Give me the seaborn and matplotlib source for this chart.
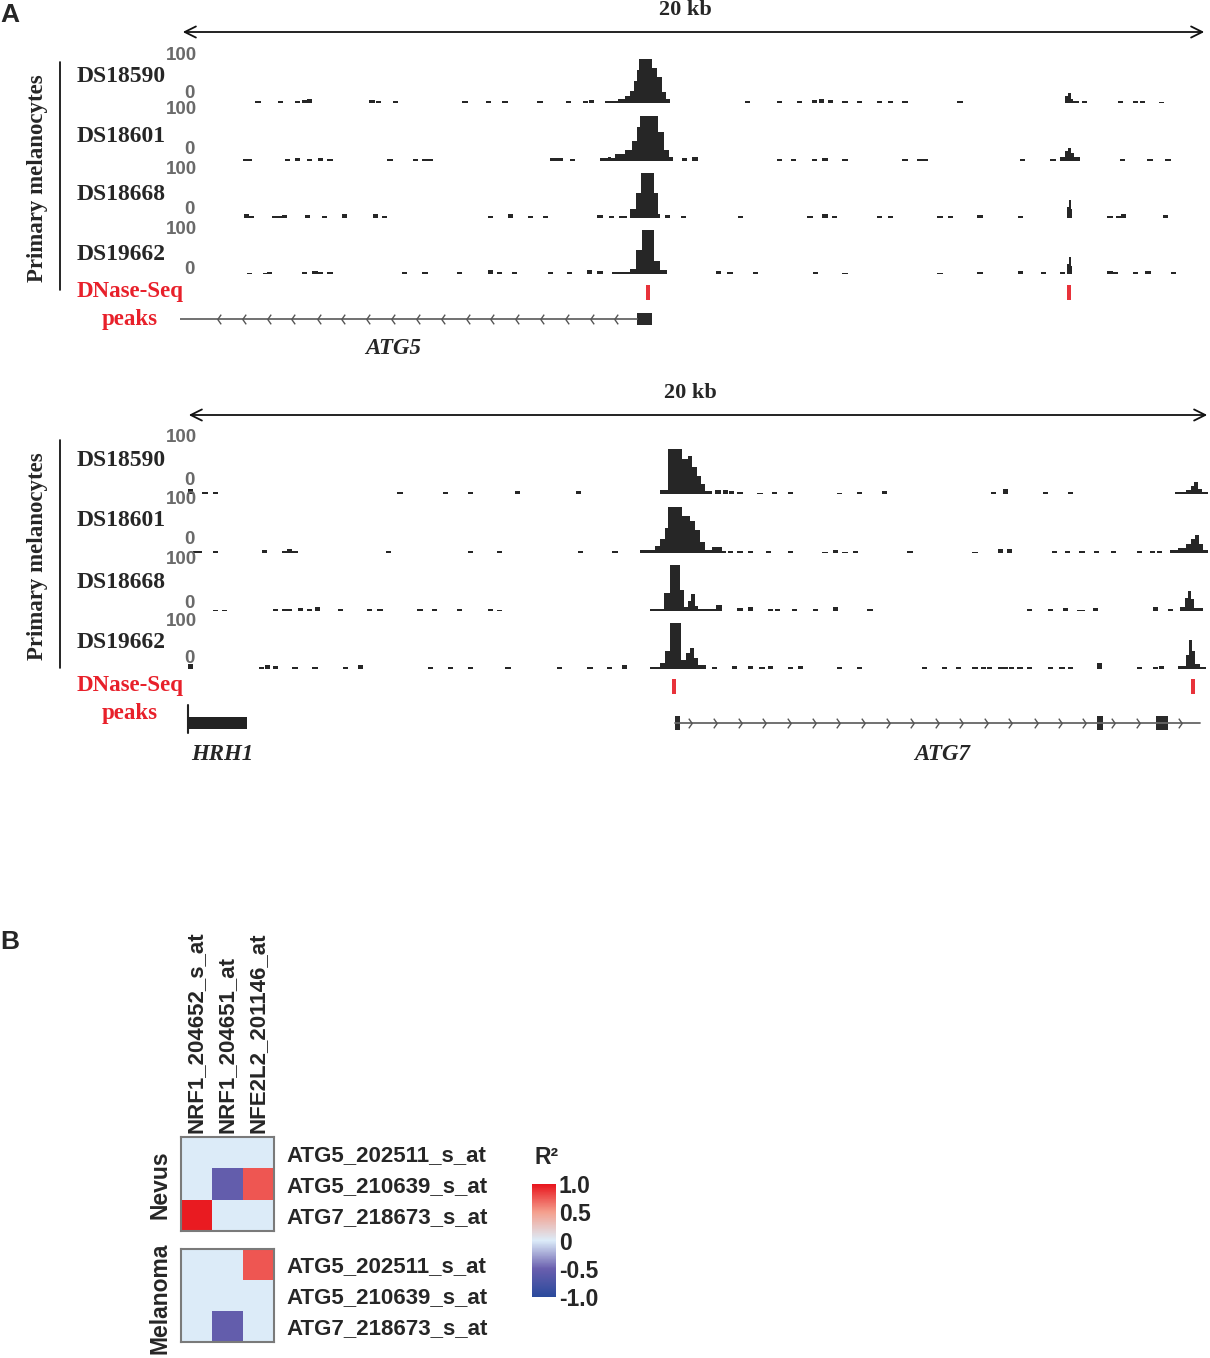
import numpy as np
import pandas as pd
import seaborn as sns
import matplotlib.pyplot as plt
from matplotlib.colors import LinearSegmentedColormap
from matplotlib.patches import FancyArrowPatch
from matplotlib.lines import Line2D
from matplotlib.path import Path

# ---------------- data: panel A (positions in kb across a 20 kb window, signal 0-100) ----------------
SAMPLES = ["DS18590", "DS18601", "DS18668", "DS19662"]

# peak segments (start_kb, end_kb, signal)
ATG5_DS18590 = [(8.28, 8.53, 5), (8.53, 8.67, 8), (8.67, 8.76, 15), (8.76, 8.84, 28), (8.84, 8.90, 50),
                (8.90, 8.94, 75), (8.94, 9.19, 100), (9.19, 9.29, 80), (9.29, 9.39, 60), (9.39, 9.46, 25),
                (9.46, 9.54, 8), (17.23, 17.29, 15), (17.29, 17.35, 23), (17.35, 17.40, 10), (17.40, 17.50, 5)]
ATG5_DS18601 = [(7.26, 7.45, 6), (8.18, 8.33, 6), (8.33, 8.40, 10), (8.40, 8.47, 7), (8.47, 8.67, 15),
                (8.67, 8.80, 25), (8.80, 8.90, 45), (8.90, 8.96, 75), (8.96, 9.31, 100), (9.31, 9.43, 65),
                (9.43, 9.52, 25), (9.52, 9.60, 8), (17.14, 17.23, 8), (17.23, 17.29, 22), (17.29, 17.35, 30),
                (17.35, 17.41, 18), (17.41, 17.53, 10)]
ATG5_DS18668 = [(8.55, 8.70, 5), (8.76, 8.88, 20), (8.88, 8.98, 55), (8.98, 9.23, 100), (9.23, 9.30, 55),
                (9.30, 9.35, 8), (17.27, 17.31, 25), (17.31, 17.35, 40), (17.35, 17.38, 20)]
ATG5_DS19662 = [(8.41, 8.76, 5), (8.76, 8.88, 12), (8.88, 9.00, 55), (9.00, 9.23, 100), (9.23, 9.35, 30),
                (9.35, 9.48, 8), (17.27, 17.31, 22), (17.31, 17.35, 38), (17.35, 17.38, 18)]

# scattered low background reads (position_kb, signal)
ATG5_DS18590_BG_X = [1.52, 1.95, 2.28, 2.43, 2.53, 3.74, 3.86, 4.19, 5.55, 6.00, 6.33, 7.01, 7.56, 7.89, 8.02,
                     11.06, 11.68, 12.07, 12.36, 12.50, 12.66, 12.95, 13.24, 13.63, 13.83, 14.12, 15.19, 17.62,
                     18.31, 18.60, 18.75, 19.12]
ATG5_DS18590_BG_Y = [5, 4, 5, 6, 10, 6, 5, 5, 4, 4, 4, 4, 5, 5, 6,
                     5, 4, 5, 6, 10, 6, 5, 4, 5, 5, 5, 4, 5, 4, 4, 4, 3]
ATG5_DS18601_BG_X = [1.27, 1.36, 2.10, 2.28, 2.53, 2.73, 2.92, 4.09, 4.58, 4.77, 4.87, 7.26, 7.36, 7.65, 9.83,
                     10.03, 11.68, 11.94, 12.36, 12.56, 12.95, 14.12, 14.41, 14.51, 16.40, 17.00, 18.36, 18.89,
                     19.24]
ATG5_DS18601_BG_Y = [4, 4, 5, 6, 5, 6, 4, 4, 4, 5, 4, 7, 6, 4, 6, 9, 4, 4, 5, 7, 5, 4, 4, 5, 4, 5, 4, 4, 5]
ATG5_DS18668_BG_X = [1.30, 1.40, 1.85, 1.95, 2.04, 2.49, 2.82, 3.21, 3.80, 3.99, 6.04, 6.43, 6.82, 7.11, 8.18,
                     8.41, 9.50, 9.80, 10.91, 12.27, 12.56, 12.75, 13.63, 13.83, 14.80, 15.00, 15.58, 16.36,
                     18.11, 18.27, 18.38, 19.19]
ATG5_DS18668_BG_Y = [10, 4, 5, 4, 6, 6, 5, 10, 10, 5, 5, 10, 4, 4, 6, 5,
                     6, 5, 4, 5, 8, 5, 4, 4, 4, 4, 6, 5, 5, 5, 8, 6]
ATG5_DS19662_BG_X = [1.36, 1.66, 1.75, 2.43, 2.63, 2.73, 2.92, 4.38, 4.77, 5.45, 6.04, 6.23, 6.52, 7.21, 7.59,
                     7.98, 8.18, 10.48, 10.71, 11.20, 12.37, 12.95, 14.80, 15.58, 16.36, 16.81, 17.18, 18.11,
                     18.21, 18.60, 18.85, 19.34]
ATG5_DS19662_BG_Y = [3, 3, 4, 5, 6, 5, 4, 5, 4, 4, 8, 5, 4, 5, 5, 9, 7, 6, 5, 5, 4, 3, 3, 5, 7, 5, 5, 6, 5, 5,
                     7, 4]

ATG7_DS18590 = [(9.26, 9.41, 8), (9.41, 9.69, 100), (9.69, 9.80, 78), (9.80, 9.88, 85), (9.88, 9.98, 60),
                (9.98, 10.06, 40), (10.06, 10.14, 22), (10.14, 10.27, 6), (19.32, 19.53, 5), (19.53, 19.63, 8),
                (19.63, 19.69, 18), (19.69, 19.77, 27), (19.77, 19.84, 12), (19.84, 19.96, 5)]
ATG7_DS18601 = [(8.87, 9.16, 6), (9.16, 9.26, 15), (9.26, 9.36, 30), (9.36, 9.41, 55), (9.41, 9.69, 100),
                (9.69, 9.84, 80), (9.84, 9.94, 70), (9.94, 10.04, 50), (10.04, 10.14, 25), (10.14, 10.27, 6),
                (10.27, 10.47, 14), (10.47, 10.55, 5), (19.22, 19.38, 6), (19.38, 19.53, 10), (19.53, 19.63, 20),
                (19.63, 19.71, 30), (19.71, 19.79, 40), (19.79, 19.86, 20), (19.86, 19.96, 6)]
ATG7_DS18668 = [(9.06, 9.34, 5), (9.34, 9.45, 40), (9.45, 9.65, 100), (9.65, 9.73, 45), (9.73, 9.80, 8),
                (9.80, 9.86, 22), (9.86, 9.94, 38), (9.94, 10.00, 10), (10.00, 10.35, 5), (10.35, 10.47, 14),
                (19.41, 19.51, 8), (19.51, 19.57, 28), (19.57, 19.63, 43), (19.63, 19.69, 25), (19.69, 19.86, 6)]
ATG7_DS19662 = [(9.06, 9.26, 5), (9.26, 9.36, 12), (9.36, 9.45, 40), (9.45, 9.67, 100), (9.67, 9.77, 20),
                (9.77, 9.84, 35), (9.84, 9.92, 45), (9.92, 10.00, 25), (10.00, 10.16, 8), (19.38, 19.53, 6),
                (19.53, 19.59, 30), (19.59, 19.65, 63), (19.65, 19.71, 40), (19.71, 19.80, 10), (19.80, 19.92, 5)]

ATG7_DS18590_BG_X = [0.08, 0.37, 0.57, 4.18, 5.06, 5.55, 6.48, 7.66, 10.39, 10.53, 10.66, 10.82, 11.21, 11.50,
                     11.80, 12.77, 13.16, 13.65, 15.78, 16.00, 16.78, 17.27]
ATG7_DS18590_BG_Y = [12, 4, 4, 4, 4, 4, 6, 6, 8, 8, 6, 5, 3, 4, 5, 3, 4, 6, 5, 12, 4, 4]
ATG7_DS18601_BG_X = [0.18, 0.27, 0.57, 1.54, 1.93, 2.03, 2.13, 3.95, 5.55, 6.13, 7.70, 8.38, 10.63, 10.82,
                     11.02, 11.37, 11.80, 12.48, 12.68, 12.87, 13.07, 14.14, 15.41, 15.90, 16.09, 16.97, 17.21,
                     17.50, 17.79, 18.11, 18.63, 18.87, 19.02]
ATG7_DS18601_BG_Y = [4, 4, 4, 6, 5, 8, 5, 4, 4, 4, 4, 4, 5, 5, 4, 4, 4, 3, 6, 3, 5, 4, 3, 8, 8, 5, 4, 5, 4, 5,
                     4, 4, 4]
ATG7_DS18668_BG_X = [0.57, 0.76, 1.74, 1.93, 2.03, 2.23, 2.42, 2.56, 3.01, 3.59, 3.79, 4.57, 4.86, 5.35, 5.94,
                     6.13, 10.82, 11.02, 11.41, 11.56, 11.89, 12.29, 12.68, 13.36, 16.48, 16.88, 17.17, 17.46,
                     17.50, 17.77, 18.93, 19.22]
ATG7_DS18668_BG_Y = [3, 3, 5, 4, 5, 6, 5, 8, 5, 4, 4, 5, 4, 4, 5, 3, 6, 8, 5, 4, 5, 4, 8, 4, 5, 4, 6, 3, 3, 6,
                     8, 5]
ATG7_DS19662_BG_X = [0.08, 1.48, 1.60, 1.74, 2.13, 2.52, 3.11, 3.40, 4.77, 5.16, 5.55, 6.29, 7.30, 7.89, 8.28,
                     8.57, 10.33, 10.72, 11.02, 11.25, 11.41, 11.80, 12.00, 12.77, 13.16, 14.43, 14.82, 15.08,
                     15.41, 15.57, 15.70, 15.90, 16.00, 16.13, 16.29, 16.48, 16.88, 17.11, 17.27, 17.85, 18.63,
                     18.93, 19.06]
ATG7_DS19662_BG_Y = [10, 4, 8, 6, 5, 4, 5, 8, 4, 4, 4, 5, 4, 4, 5, 8, 4, 6, 7, 4, 6, 5, 6, 4, 5, 4, 4, 4, 4, 4,
                     4, 4, 5, 5, 5, 4, 4, 5, 4, 12, 4, 5, 6]

# DNase-seq peak calls (kb)
ATG5_PEAK_CALLS = [9.11, 17.31]
ATG7_PEAK_CALLS = [9.53, 19.67]

# gene models (kb)
ATG5_SPAN = (0.0, 8.90)
ATG5_EXONS = [(8.90, 9.19)]
ATG5_INTRON_ARROWS = [0.76, 1.24, 1.73, 2.21, 2.70, 3.18, 3.66, 4.15, 4.63, 5.12, 5.60, 6.08, 6.57, 7.05,
                      7.54, 8.02, 8.50]
HRH1_EXONS = [(0.04, 1.19)]
ATG7_SPAN = (9.55, 19.80)
ATG7_EXONS = [(9.55, 9.65), (17.79, 17.91), (18.95, 19.18)]
ATG7_INTRON_ARROWS = [9.84, 10.33, 10.82, 11.29, 11.78, 12.27, 12.73, 13.22, 13.71, 14.18, 14.67, 15.14,
                      15.63, 16.09, 16.60, 17.07, 17.54, 18.11, 18.59, 19.41]

# ---------------- data: panel B ----------------
TF_PROBES = ["NRF1_204652_s_at", "NRF1_204651_at", "NFE2L2_201146_at"]
ATG_PROBES = ["ATG5_202511_s_at", "ATG5_210639_s_at", "ATG7_218673_s_at"]
NEVUS_R2 = [[0.0, 0.0, 0.0],
            [0.0, -0.55, 0.76],
            [0.97, 0.0, 0.0]]
MELANOMA_R2 = [[0.0, 0.0, 0.76],
               [0.0, 0.0, 0.0],
               [0.0, -0.55, 0.0]]
CBAR_TICKS = [1.0, 0.5, 0.0, -0.5, -1.0]
CBAR_LABELS = ["1.0", "0.5", "0", "-0.5", "-1.0"]

# ---------------- figure ----------------
sns.set_style("white")
plt.rcParams['font.family'] = ['Liberation Sans', 'DejaVu Sans']
SERIF = ['Liberation Serif', 'DejaVu Serif']

W, H = 1210, 1358
fig = plt.figure(figsize=(W / 100, H / 100), dpi=100)

TRACK_COL = '#262626'
PEAK_RED = '#e8323a'


def px_ax(x0, y0, x1, y1):
    return fig.add_axes([x0 / W, 1 - y1 / H, (x1 - x0) / W, (y1 - y0) / H])


def px_text(x, y, s, **kw):
    kw.setdefault('ha', 'center')
    kw.setdefault('va', 'center')
    return fig.text(x / W, 1 - y / H, s, **kw)


def draw_track(ax, segs, bg_x, bg_y):
    starts = [a for a, b, v in segs]
    widths = [b - a for a, b, v in segs]
    vals = [min(v, 100) for a, b, v in segs]
    ax.bar(starts, vals, width=widths, align='edge', color=TRACK_COL, linewidth=0)
    ax.bar(bg_x, bg_y, width=0.1, align='center', color=TRACK_COL, linewidth=0)
    ax.set_xlim(0, 20)
    ax.set_ylim(0, 100)
    ax.axis('off')


chev_left = Path([(0.35, 1), (-0.35, 0), (0.35, -1)], [Path.MOVETO, Path.LINETO, Path.LINETO])
chev_right = Path([(-0.35, 1), (0.35, 0), (-0.35, -1)], [Path.MOVETO, Path.LINETO, Path.LINETO])


def draw_block(x0, x1, kb_y, arrow_y, bounds, label_ys, hi_ys, lo_ys, line_y, red_y, tracks, calls):
    px_text((x0 + x1) / 2 - 8, kb_y, "20 kb", family=SERIF, fontweight='bold', fontsize=16)
    fig.add_artist(FancyArrowPatch((x0 / W, 1 - arrow_y / H), (x1 / W, 1 - arrow_y / H),
                                   transform=fig.transFigure, arrowstyle='<->', mutation_scale=20,
                                   lw=1.3, color='#111111'))
    for (top, bot), ly, hy, lo, name, (segs, bx, by) in zip(bounds, label_ys, hi_ys, lo_ys, SAMPLES, tracks):
        ax = px_ax(x0, top, x1, bot)
        draw_track(ax, segs, bx, by)
        px_text(77, ly, name, ha='left', family=SERIF, fontweight='bold', fontsize=17)
        px_text(197, hy, "100", ha='right', fontweight='bold', fontsize=13.5, color='#6a6a6a')
        px_text(189, lo, "0", fontweight='bold', fontsize=13.5, color='#6a6a6a')
    # vertical bracket and group label
    fig.add_artist(Line2D([60 / W, 60 / W], [1 - line_y[0] / H, 1 - line_y[1] / H], color='black', lw=1.2))
    px_text(38, (line_y[0] + line_y[1]) / 2 + 2, "Primary melanocytes", rotation=90, family=SERIF,
            fontweight='bold', fontsize=16.5)
    # peak calls
    pax = px_ax(x0, red_y, x1, red_y + 15)
    pax.bar(calls, [1] * len(calls), width=0.08, color=PEAK_RED, linewidth=0)
    pax.set_xlim(0, 20)
    pax.set_ylim(0, 1)
    pax.axis('off')
    px_text(130, red_y + 7, "DNase-Seq", family=SERIF, fontweight='bold', fontsize=16.5, color='#e8202a')
    px_text(130, red_y + 35, "peaks", family=SERIF, fontweight='bold', fontsize=16.5, color='#e8202a')


# block 1 : ATG5
draw_block(180, 1207, 10, 32,
           [(59, 103), (116, 161), (173, 218), (230, 274)],
           [77, 136, 195, 254], [55, 110, 170, 230], [93, 150, 210, 270], (62, 290), 285,
           [(ATG5_DS18590, ATG5_DS18590_BG_X, ATG5_DS18590_BG_Y),
            (ATG5_DS18601, ATG5_DS18601_BG_X, ATG5_DS18601_BG_Y),
            (ATG5_DS18668, ATG5_DS18668_BG_X, ATG5_DS18668_BG_Y),
            (ATG5_DS19662, ATG5_DS19662_BG_X, ATG5_DS19662_BG_Y)],
           ATG5_PEAK_CALLS)

gax = px_ax(180, 299, 1207, 339)
gax.plot(ATG5_SPAN, [0.5, 0.5], color='#666666', lw=1.3)
for a, b in ATG5_EXONS:
    gax.bar(a, 0.3, width=b - a, bottom=0.35, align='edge', color='#2a2a2a', linewidth=0)
gax.plot(ATG5_INTRON_ARROWS, [0.5] * len(ATG5_INTRON_ARROWS), ls='none', marker=chev_left, ms=7,
         mfc='none', mec='#555555', mew=1.0)
gax.set_xlim(0, 20)
gax.set_ylim(0, 1)
gax.axis('off')
px_text(393, 348, "ATG5", family=SERIF, fontweight='bold', fontstyle='italic', fontsize=16.5)

# block 2 : ATG7
draw_block(186, 1210, 393, 415,
           [(449, 494), (507, 553), (565, 611), (623, 669)],
           [460, 521, 582, 643], [438, 500, 560, 622], [480, 540, 603, 658], (440, 668), 679,
           [(ATG7_DS18590, ATG7_DS18590_BG_X, ATG7_DS18590_BG_Y),
            (ATG7_DS18601, ATG7_DS18601_BG_X, ATG7_DS18601_BG_Y),
            (ATG7_DS18668, ATG7_DS18668_BG_X, ATG7_DS18668_BG_Y),
            (ATG7_DS19662, ATG7_DS19662_BG_X, ATG7_DS19662_BG_Y)],
           ATG7_PEAK_CALLS)

gax2 = px_ax(186, 703, 1210, 743)
for a, b in HRH1_EXONS:
    gax2.bar(a, 0.3, width=b - a, bottom=0.35, align='edge', color='#222222', linewidth=0)
    gax2.plot([a, a], [0.25, 0.95], color='#222222', lw=1.5)
gax2.plot(ATG7_SPAN, [0.5, 0.5], color='#666666', lw=1.3)
for a, b in ATG7_EXONS:
    gax2.bar(a, 0.36, width=b - a, bottom=0.32, align='edge', color='#2a2a2a', linewidth=0)
gax2.plot(ATG7_INTRON_ARROWS, [0.5] * len(ATG7_INTRON_ARROWS), ls='none', marker=chev_right, ms=7,
          mfc='none', mec='#555555', mew=1.0)
gax2.set_xlim(0, 20)
gax2.set_ylim(0, 1)
gax2.axis('off')
px_text(222, 755, "HRH1", family=SERIF, fontweight='bold', fontstyle='italic', fontsize=16.5)
px_text(942, 755, "ATG7", family=SERIF, fontweight='bold', fontstyle='italic', fontsize=16.5)

px_text(0, 15, "A", ha='left', fontweight='bold', fontsize=19)
px_text(0, 942, "B", ha='left', fontweight='bold', fontsize=19)

# ---------------- panel B heatmaps ----------------
cmap = LinearSegmentedColormap.from_list(
    'r2', [(0.0, '#2a4a9c'), (0.25, '#6a5fae'), (0.5, '#dcecf9'), (0.75, '#f4a08e'), (1.0, '#e8141c')])

nevus_df = pd.DataFrame(NEVUS_R2, index=ATG_PROBES, columns=TF_PROBES)
melanoma_df = pd.DataFrame(MELANOMA_R2, index=ATG_PROBES, columns=TF_PROBES)

hax1 = px_ax(181, 1137, 274, 1231)
hax2 = px_ax(181, 1249, 274, 1342)
for hax, df, show_cols in [(hax1, nevus_df, True), (hax2, melanoma_df, False)]:
    sns.heatmap(df, ax=hax, cmap=cmap, vmin=-1, vmax=1, cbar=False,
                xticklabels=show_cols, yticklabels=True)
    for sp in hax.spines.values():
        sp.set_visible(True)
        sp.set_color('#7a7a7a')
        sp.set_linewidth(1.5)
    hax.yaxis.tick_right()
    hax.set_yticklabels(ATG_PROBES, rotation=0, fontsize=16, fontweight='bold')
    hax.tick_params(axis='y', length=0, pad=9)
    hax.set_xlabel('')
    hax.set_ylabel('')
    if show_cols:
        hax.xaxis.tick_top()
        hax.set_xticks(np.arange(len(TF_PROBES)) + 0.5)
        hax.set_xticklabels(TF_PROBES, rotation=90)
        hax.tick_params(axis='x', length=0, pad=3)
        for tick in hax.xaxis.get_major_ticks():
            for lab in (tick.label1, tick.label2):
                lab.set_fontweight('bold')
                lab.set_fontsize(16)
                lab.set_rotation(90)

px_text(160, 1185, "Nevus", rotation=90, fontweight='bold', fontsize=16.5)
px_text(160, 1298, "Melanoma", rotation=90, fontweight='bold', fontsize=16.5)

cax = px_ax(532, 1184, 556, 1297)
cb = fig.colorbar(hax1.collections[0], cax=cax)
cb.outline.set_visible(False)
cax.yaxis.set_ticks_position('both')
cax.set_yticks(CBAR_TICKS)
cax.set_yticklabels(CBAR_LABELS, fontweight='bold', fontsize=16.5)
cax.tick_params(axis='y', which='both', direction='in', color='white', length=5, width=1.2,
                pad=2, labelright=True, labelleft=False)
px_text(547, 1157, "R²", fontweight='bold', fontsize=16.5)

fig.savefig('out.png', dpi=100)
